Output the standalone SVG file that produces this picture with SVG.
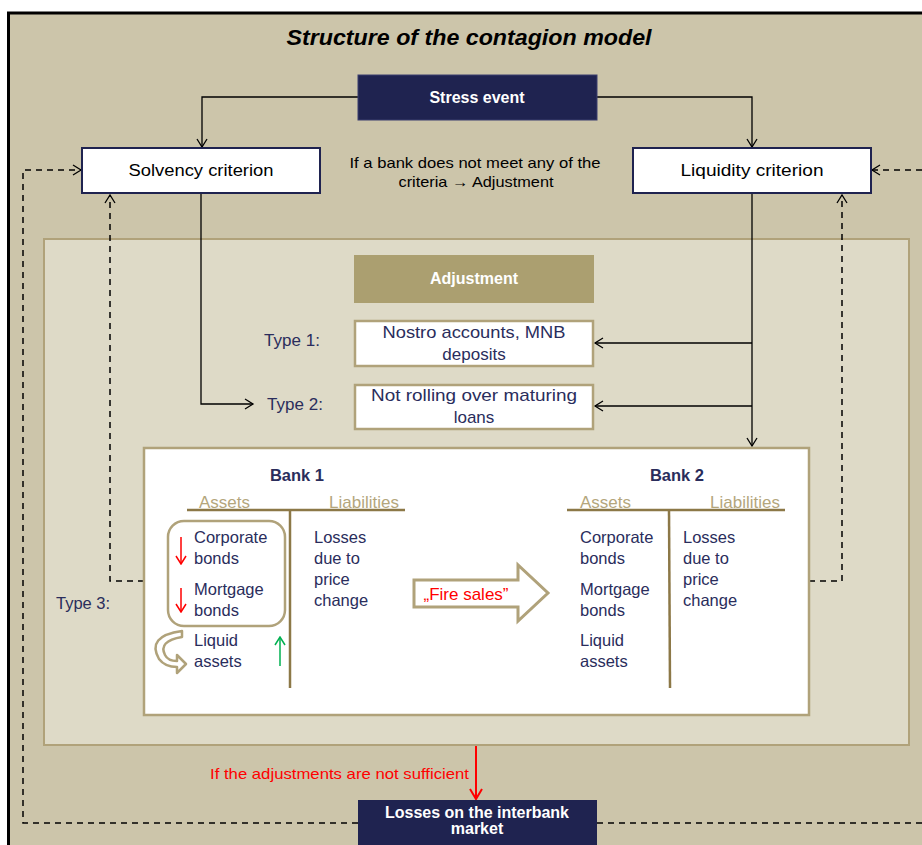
<svg xmlns="http://www.w3.org/2000/svg" width="922" height="845" viewBox="0 0 922 845">
<defs>
<marker id="ah" markerWidth="12" markerHeight="12" refX="10" refY="6" orient="auto" markerUnits="userSpaceOnUse">
<path d="M2,1 L10,6 L2,11" fill="none" stroke="#000" stroke-width="1.3"/>
</marker>
<marker id="ahr" markerWidth="14" markerHeight="14" refX="12" refY="7" orient="auto" markerUnits="userSpaceOnUse">
<path d="M2,1 L12,7 L2,13" fill="none" stroke="#FF0000" stroke-width="2"/>
</marker>
<marker id="ahred" markerWidth="10" markerHeight="12" refX="9" refY="6" orient="auto" markerUnits="userSpaceOnUse">
<path d="M1,1 L9,6 L1,11" fill="none" stroke="#FF0000" stroke-width="1.5"/>
</marker>
<marker id="ahgreen" markerWidth="10" markerHeight="12" refX="9" refY="6" orient="auto" markerUnits="userSpaceOnUse">
<path d="M1,1 L9,6 L1,11" fill="none" stroke="#00B050" stroke-width="1.5"/>
</marker>
</defs>
<style>
text{font-family:"Liberation Sans",Arial,sans-serif}
.wb{fill:#fff;font-weight:bold;font-size:16px}
.tan{fill:#B4A67C;font-size:17px}
.bt{fill:#2A2D5C;font-size:16.5px}
.bx{fill:#2A2D5C;font-size:17px}
.cn{stroke:#000;stroke-width:1.3;fill:none}
.dash{stroke:#000;stroke-width:1.5;fill:none;stroke-dasharray:6,5}
.crit{fill:#fff;stroke:#1F2350;stroke-width:2}
.adjbox{fill:#fff;stroke:#B0A27A;stroke-width:2.5}
.line{stroke:#8C7847;stroke-width:2.5}
</style>
<rect x="0" y="0" width="922" height="845" fill="#fff"/>
<rect x="8" y="13" width="914" height="832" fill="#CCC5AA"/>
<path d="M8.5,845 V13 H922" fill="none" stroke="#000" stroke-width="3"/>
<text x="469" y="45" text-anchor="middle" font-size="22" font-weight="bold" font-style="italic" fill="#000" textLength="365" lengthAdjust="spacingAndGlyphs">Structure of the contagion model</text>

<g id="panel">
<rect x="44" y="239" width="865" height="506" fill="#DEDAC7" stroke="#B0A27A" stroke-width="2"/>
</g>

<g id="connectors">
<path class="cn" d="M358,97 H202 V147" marker-end="url(#ah)"/>
<path class="cn" d="M597,97 H752 V147" marker-end="url(#ah)"/>
<path class="cn" d="M201,193 V404 H253" marker-end="url(#ah)"/>
<path class="cn" d="M752,193 V446" marker-end="url(#ah)"/>
<path class="cn" d="M752,343 H595" marker-end="url(#ah)"/>
<path class="cn" d="M752,406 H595" marker-end="url(#ah)"/>
<path class="dash" d="M144,581 H110 V195" marker-end="url(#ah)"/>
<path class="dash" d="M809,581 H842 V195" marker-end="url(#ah)"/>
<path class="dash" d="M358,823 H23 V170 H81" marker-end="url(#ah)"/>
<path class="dash" d="M597,823 H922"/>
<path class="dash" d="M922,170 H872" marker-end="url(#ah)"/>
<path d="M476,746 V799" stroke="#FF0000" stroke-width="2" fill="none" marker-end="url(#ahr)"/>
</g>

<g id="stress">
<rect x="358" y="75" width="239" height="45" fill="#1F2350" stroke="#3A3F6E" stroke-width="1"/>
<text x="477" y="103" text-anchor="middle" class="wb">Stress event</text>
</g>
<g id="solvency">
<rect x="82" y="148" width="238" height="45" class="crit"/>
<text x="201" y="176" text-anchor="middle" font-size="16" fill="#000" textLength="145" lengthAdjust="spacingAndGlyphs">Solvency criterion</text>
</g>
<g id="liquidity">
<rect x="633" y="148" width="238" height="45" class="crit"/>
<text x="752" y="176" text-anchor="middle" font-size="16" fill="#000" textLength="143" lengthAdjust="spacingAndGlyphs">Liquidity criterion</text>
</g>
<g id="note">
<text x="475" y="168" text-anchor="middle" font-size="15" fill="#000" textLength="251" lengthAdjust="spacingAndGlyphs">If a bank does not meet any of the</text>
<text x="476" y="187" text-anchor="middle" font-size="15" fill="#000" textLength="155" lengthAdjust="spacingAndGlyphs">criteria → Adjustment</text>
</g>

<g id="adjustment">
<rect x="354" y="255" width="240" height="48" fill="#AB9F70"/>
<text x="474" y="284" text-anchor="middle" class="wb">Adjustment</text>
</g>
<g id="type1">
<text x="292" y="346" text-anchor="middle" class="bx">Type 1:</text>
<rect x="355" y="321" width="238" height="45" class="adjbox"/>
<text x="474" y="338" text-anchor="middle" class="bx" textLength="183" lengthAdjust="spacingAndGlyphs">Nostro accounts, MNB</text>
<text x="474" y="360" text-anchor="middle" class="bx">deposits</text>
</g>
<g id="type2">
<text x="295" y="410" text-anchor="middle" class="bx">Type 2:</text>
<rect x="355" y="385" width="238" height="44" class="adjbox"/>
<text x="474" y="401" text-anchor="middle" class="bx" textLength="206" lengthAdjust="spacingAndGlyphs">Not rolling over maturing</text>
<text x="474" y="423" text-anchor="middle" class="bx">loans</text>
</g>

<g id="type3">
<text x="56" y="609" class="bt">Type 3:</text>
<rect x="144" y="448" width="665" height="267" fill="#fff" stroke="#B0A27A" stroke-width="2.5"/>
</g>

<g id="bank1">
<text x="297" y="481" text-anchor="middle" class="bt" font-weight="bold">Bank 1</text>
<text x="199" y="508" class="tan">Assets</text>
<text x="329" y="508" class="tan">Liabilities</text>
<line x1="187" y1="510" x2="405" y2="510" class="line"/>
<line x1="290" y1="510" x2="290" y2="688" class="line"/>
<rect x="168" y="521" width="117" height="105" rx="16" fill="none" stroke="#B0A27A" stroke-width="2.5"/>
<text x="194" y="543" class="bt">Corporate</text>
<text x="194" y="564" class="bt">bonds</text>
<text x="194" y="595" class="bt">Mortgage</text>
<text x="194" y="616" class="bt">bonds</text>
<text x="194" y="646" class="bt">Liquid</text>
<text x="194" y="667" class="bt">assets</text>
<text x="314" y="543" class="bt">Losses</text>
<text x="314" y="564" class="bt">due to</text>
<text x="314" y="585" class="bt">price</text>
<text x="314" y="606" class="bt">change</text>
<path d="M181,537 V564" stroke="#FF0000" stroke-width="1.5" fill="none" marker-end="url(#ahred)"/>
<path d="M181,588 V612" stroke="#FF0000" stroke-width="1.5" fill="none" marker-end="url(#ahred)"/>
<path d="M280,666 V637" stroke="#00B050" stroke-width="1.5" fill="none" marker-end="url(#ahgreen)"/>
<path d="M182,631 Q146,636 159,659 Q165,667 177,667 L177,673 L186,664 L177,655 L177,661 Q168,661 165,655 Q158,641 182,637 Z" fill="#fff" stroke="#B0A27A" stroke-width="2.5" stroke-linejoin="round"/>
</g>

<g id="firesales">
<path d="M414,580 H518 V565 L548,593 L518,621 V607 H414 Z" fill="#fff" stroke="#B0A27A" stroke-width="3"/>
<text x="466" y="600" text-anchor="middle" font-size="17" fill="#FF0000">„Fire sales”</text>
</g>

<g id="bank2">
<text x="677" y="481" text-anchor="middle" class="bt" font-weight="bold">Bank 2</text>
<text x="580" y="508" class="tan">Assets</text>
<text x="710" y="508" class="tan">Liabilities</text>
<line x1="567" y1="510" x2="785" y2="510" class="line"/>
<line x1="669" y1="510" x2="670" y2="688" class="line"/>
<text x="580" y="543" class="bt">Corporate</text>
<text x="580" y="564" class="bt">bonds</text>
<text x="580" y="595" class="bt">Mortgage</text>
<text x="580" y="616" class="bt">bonds</text>
<text x="580" y="646" class="bt">Liquid</text>
<text x="580" y="667" class="bt">assets</text>
<text x="683" y="543" class="bt">Losses</text>
<text x="683" y="564" class="bt">due to</text>
<text x="683" y="585" class="bt">price</text>
<text x="683" y="606" class="bt">change</text>
</g>

<g id="losses">
<text x="469" y="779" text-anchor="end" font-size="15" fill="#FF0000" textLength="259" lengthAdjust="spacingAndGlyphs">If the adjustments are not sufficient</text>
<rect x="358" y="800" width="239" height="50" fill="#1F2350"/>
<text x="477" y="818" text-anchor="middle" class="wb" font-size="14">Losses on the interbank</text>
<text x="477" y="834" text-anchor="middle" class="wb" font-size="14">market</text>
</g>
</svg>
